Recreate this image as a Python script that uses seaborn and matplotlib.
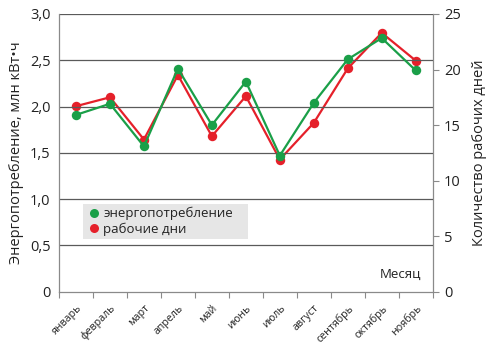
import matplotlib
matplotlib.use("Agg")
import matplotlib.pyplot as plt
from matplotlib.lines import Line2D
from matplotlib.ticker import FixedLocator, FuncFormatter
import seaborn as sns
import pandas as pd
import numpy as np

months = ["январь", "февраль", "март", "апрель", "май", "июнь",
          "июль", "август", "сентябрь", "октябрь", "ноябрь"]
energy = [1.91, 2.03, 1.57, 2.41, 1.80, 2.27, 1.47, 2.04, 2.51, 2.74, 2.39]
workdays = [16.7, 17.5, 13.7, 19.5, 14.0, 17.6, 11.9, 15.2, 20.1, 23.3, 20.8]

green = "#1a9f48"
red = "#e5202a"
grid_c = "#5a5a5a"
spine_c = "#8a8a8a"
text_c = "#222222"

sns.set_theme(style="white")
plt.rcParams["font.family"] = ["Open Sans", "DejaVu Sans"]

df = pd.DataFrame({"pos": np.arange(len(months)), "month": months,
                   "energy": energy, "workdays": workdays})

fig = plt.figure(figsize=(5.0, 3.47), dpi=100)
ax = fig.add_axes([0.118, 0.1594, 0.7474, 0.8003])
ax2 = ax.twinx()

# working days on the secondary axis; energy drawn above it
sns.lineplot(data=df, x="pos", y="workdays", ax=ax2, color=red, lw=1.6,
             marker="o", markersize=6.8, markeredgewidth=0, zorder=3)
ax.set_zorder(ax2.get_zorder() + 1)
ax.patch.set_visible(False)
sns.lineplot(data=df, x="pos", y="energy", ax=ax, color=green, lw=1.6,
             marker="o", markersize=6.8, markeredgewidth=0, zorder=4)

ax.set_xlim(-0.5, len(months) - 0.5)
ax.set_ylim(0, 3.0)
ax2.set_ylim(0, 25)

# horizontal grid from the left scale
for v in np.arange(0.5, 3.01, 0.5):
    ax.axhline(v, color=grid_c, lw=0.9, zorder=1)

ax.set_yticks(np.arange(0, 3.01, 0.5))
ax.yaxis.set_major_formatter(FuncFormatter(
    lambda v, p: "0" if v == 0 else f"{v:.1f}".replace(".", ",")))
ax.tick_params(axis="y", length=0, pad=6, labelsize=10.5, labelcolor=text_c)

ax2.set_yticks(np.arange(0, 26, 5))
ax2.tick_params(axis="y", length=4, width=0.8, color=spine_c, pad=4,
                labelsize=10.5, labelcolor=text_c)

ax.set_xticks(df["pos"])
ax.set_xticklabels(months, rotation=45, ha="right", rotation_mode="anchor",
                   fontsize=7.7, color=text_c)
ax.xaxis.set_minor_locator(FixedLocator(np.arange(-0.5, len(months), 1.0)))
ax.tick_params(axis="x", which="major", length=0, pad=8)
ax.tick_params(axis="x", which="minor", length=4, width=0.8, color=spine_c,
               bottom=True)

for a in (ax, ax2):
    a.spines["top"].set_visible(False)
    for s in ("left", "bottom", "right"):
        a.spines[s].set_color(spine_c)
        a.spines[s].set_linewidth(0.9)
ax.spines["right"].set_visible(False)
ax2.spines["left"].set_visible(False)
ax2.spines["bottom"].set_visible(False)

ax.set_xlabel("")
ax2.set_xlabel("")
ax.set_ylabel("Энергопотребление, млн кВт•ч", fontsize=10.5, color=text_c,
              labelpad=4)
ax2.set_ylabel("Количество рабочих дней", fontsize=10.5, color=text_c,
               labelpad=8)

ax.text(0.97, 0.04, "Месяц", transform=ax.transAxes, ha="right", va="bottom",
        fontsize=9.5, color=text_c)

handles = [
    Line2D([], [], ls="none", marker="o", markersize=6.5, color=green,
           markeredgewidth=0, label="энергопотребление"),
    Line2D([], [], ls="none", marker="o", markersize=6.5, color=red,
           markeredgewidth=0, label="рабочие дни"),
]
leg = ax.legend(handles=handles, loc="lower left",
                bbox_to_anchor=(0.064, 0.19, 0.442, 0.122), mode="expand",
                frameon=True, fancybox=False, facecolor="#e6e6e6",
                edgecolor="none", framealpha=1, fontsize=9.5,
                handletextpad=0.1, borderpad=0.25, labelspacing=0.15,
                handlelength=1.2, borderaxespad=0)
for t in leg.get_texts():
    t.set_color(text_c)

fig.savefig("out.png", dpi=100)
